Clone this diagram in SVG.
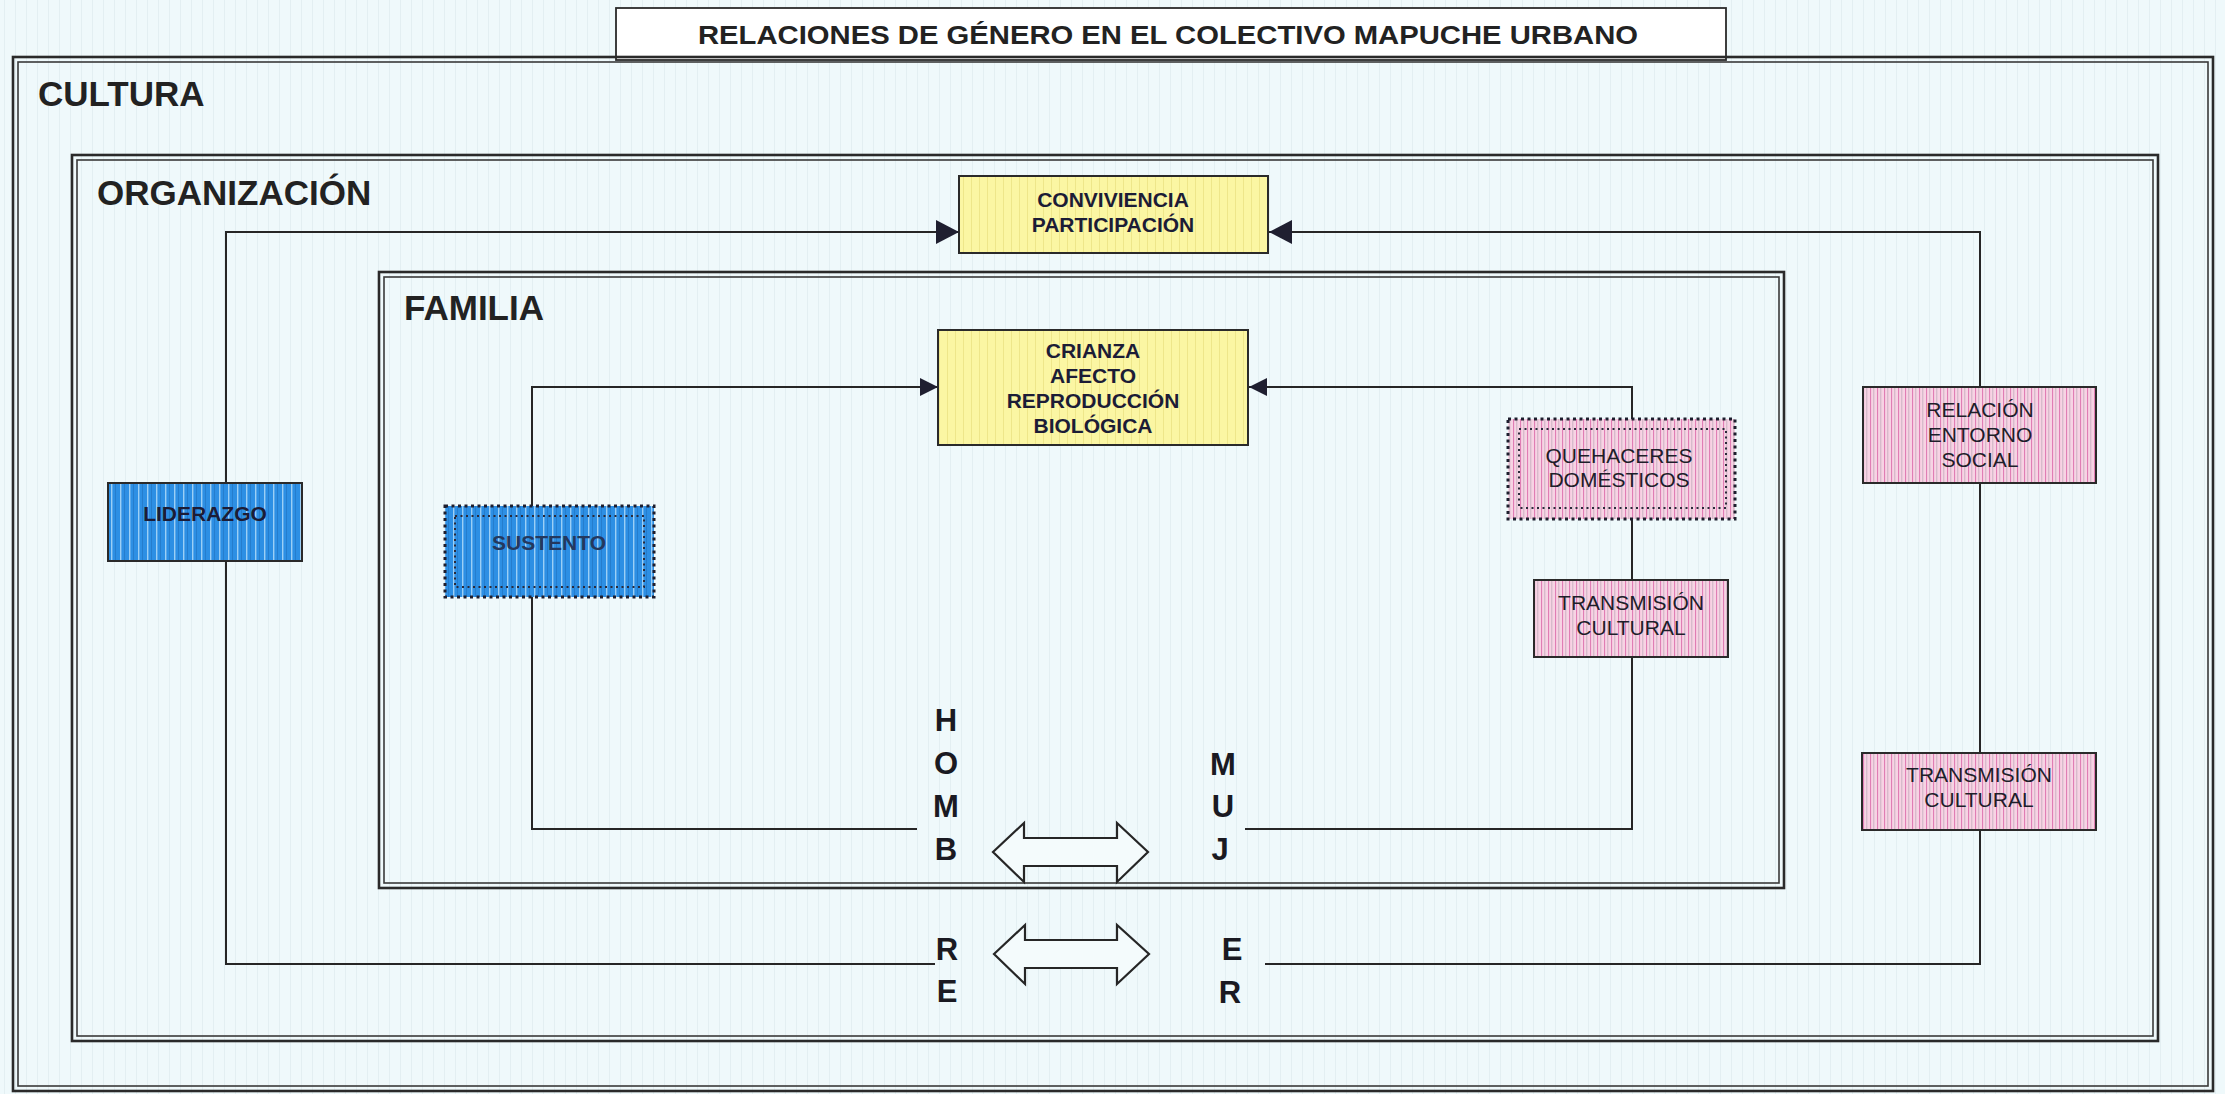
<svg xmlns="http://www.w3.org/2000/svg" width="2225" height="1094" viewBox="0 0 2225 1094">
<style>
  .frame-o { fill: none; stroke: #2a2a2a; stroke-width: 2.6; }
  .frame-i { fill: none; stroke: #3a3a3a; stroke-width: 1.6; }
  .lbl { font-family: "Liberation Sans", Arial, sans-serif; font-weight: bold; font-size: 35px; fill: #222; }
  .bt { font-family: "Liberation Sans", Arial, sans-serif; font-weight: bold; font-size: 21px; fill: #1c1c36; text-anchor: middle; }
  .pt { font-family: "Liberation Sans", Arial, sans-serif; font-weight: normal; font-size: 21px; fill: #1e1e2a; text-anchor: middle; }
  .let { font-family: "Liberation Sans", Arial, sans-serif; font-weight: bold; font-size: 31px; fill: #1a1a22; text-anchor: middle; }
  .conn { fill: none; stroke: #262626; stroke-width: 2; }
  .blk { fill: #f4fbfc; stroke: #262626; stroke-width: 2.2; stroke-linejoin: miter; }
  .box { stroke: #2a2a2a; stroke-width: 2; }
  .dot-o { fill: none; stroke: #1e1e2e; stroke-width: 3; stroke-dasharray: 3 3.5; }
  .dot-i { fill: none; stroke: #2a2a3a; stroke-width: 2; stroke-dasharray: 2 3.5; }
</style>
<defs>
  <pattern id="bg" width="11" height="20" patternUnits="userSpaceOnUse">
    <rect width="11" height="20" fill="#eff9fb"/>
    <rect x="4" width="1" height="20" fill="#e3eff2"/>
  </pattern>
  <pattern id="yel" width="8" height="20" patternUnits="userSpaceOnUse">
    <rect width="8" height="20" fill="#fbf6a3"/>
    <rect x="3" width="1" height="20" fill="#eee68a"/>
  </pattern>
  <pattern id="blu" width="9" height="20" patternUnits="userSpaceOnUse">
    <rect width="9" height="20" fill="#2d8fe4"/>
    <rect x="3" width="1.4" height="20" fill="#9ccff5"/>
    <rect x="7" width="0.8" height="20" fill="#2378c8"/>
  </pattern>
  <pattern id="pnk" width="7" height="20" patternUnits="userSpaceOnUse">
    <rect width="7" height="20" fill="#f7d3e4"/>
    <rect x="1" width="1.1" height="20" fill="#e07db4"/>
    <rect x="4.5" width="0.7" height="20" fill="#b7a3b3"/>
  </pattern>
  <marker id="arBig" markerUnits="userSpaceOnUse" markerWidth="24" markerHeight="26" refX="23" refY="12" orient="auto">
    <path d="M0,0 L23,12 L0,24 Z" fill="#1f1f30"/>
  </marker>
  <marker id="arSm" markerUnits="userSpaceOnUse" markerWidth="20" markerHeight="20" refX="18" refY="9" orient="auto">
    <path d="M0,0 L18,9 L0,18 Z" fill="#1f1f30"/>
  </marker>
</defs>

<rect x="0" y="0" width="2225" height="1094" fill="url(#bg)"/>

<g id="title">
  <rect x="616" y="8" width="1110" height="52" fill="#ffffff" stroke="#2a2a2a" stroke-width="1.8"/>
  <text x="1168" y="44" font-family="Liberation Sans, Arial, sans-serif" font-weight="bold" font-size="26" fill="#222" text-anchor="middle" textLength="940" lengthAdjust="spacingAndGlyphs">RELACIONES DE GÉNERO EN EL COLECTIVO MAPUCHE URBANO</text>
</g>

<g id="cultura">
  <rect class="frame-o" x="13" y="57" width="2200" height="1034"/>
  <rect class="frame-i" x="18" y="62" width="2190" height="1024"/>
  <text class="lbl" x="38" y="106">CULTURA</text>
</g>

<g id="organizacion">
  <rect class="frame-o" x="72" y="155" width="2086" height="886"/>
  <rect class="frame-i" x="77" y="160" width="2076" height="876"/>
  <text class="lbl" x="97" y="205">ORGANIZACIÓN</text>
</g>

<g id="familia">
  <rect class="frame-o" x="379" y="272" width="1405" height="616"/>
  <rect class="frame-i" x="384" y="277" width="1395" height="606"/>
  <text class="lbl" x="404" y="320">FAMILIA</text>
</g>

<g id="connectors">
  <path class="conn" d="M935,964 L226,964 L226,232 L959,232" marker-end="url(#arBig)"/>
  <path class="conn" d="M1265,964 L1980,964 L1980,232 L1269,232" marker-end="url(#arBig)"/>
  <path class="conn" d="M917,829 L532,829 L532,387 L938,387" marker-end="url(#arSm)"/>
  <path class="conn" d="M1245,829 L1632,829 L1632,387 L1249,387" marker-end="url(#arSm)"/>
</g>

<g id="relacion-hombre-mujer">
  <polygon class="blk" points="993,852 1024,823 1024,838 1117,838 1117,823 1148,852 1117,882 1117,866 1024,866 1024,882"/>
  <polygon class="blk" points="994,954 1025,925 1025,940 1117,940 1117,925 1149,954 1117,984 1117,968 1025,968 1025,984"/>
</g>

<g id="hombre">
  <text class="let" x="946" y="731">H</text>
  <text class="let" x="946" y="774">O</text>
  <text class="let" x="946" y="817">M</text>
  <text class="let" x="946" y="860">B</text>
  <text class="let" x="947" y="960">R</text>
  <text class="let" x="947" y="1002">E</text>
</g>

<g id="mujer">
  <text class="let" x="1223" y="775">M</text>
  <text class="let" x="1223" y="817">U</text>
  <text class="let" x="1220" y="860">J</text>
  <text class="let" x="1232" y="960">E</text>
  <text class="let" x="1230" y="1003">R</text>
</g>

<g id="convivencia">
  <rect class="box" x="959" y="176" width="309" height="77" fill="url(#yel)"/>
  <text class="bt" x="1113" y="207">CONVIVIENCIA</text>
  <text class="bt" x="1113" y="232">PARTICIPACIÓN</text>
</g>

<g id="crianza">
  <rect class="box" x="938" y="330" width="310" height="115" fill="url(#yel)"/>
  <text class="bt" x="1093" y="358">CRIANZA</text>
  <text class="bt" x="1093" y="383">AFECTO</text>
  <text class="bt" x="1093" y="408">REPRODUCCIÓN</text>
  <text class="bt" x="1093" y="433">BIOLÓGICA</text>
</g>

<g id="liderazgo">
  <rect class="box" x="108" y="483" width="194" height="78" fill="url(#blu)"/>
  <text class="bt" x="205" y="521" fill="#1c2240">LIDERAZGO</text>
</g>

<g id="sustento">
  <rect x="445" y="506" width="209" height="91" fill="url(#blu)"/>
  <rect class="dot-o" x="445" y="506" width="209" height="91"/>
  <rect class="dot-i" x="455" y="516" width="189" height="71"/>
  <text class="bt" x="549" y="550" style="fill:#24385e">SUSTENTO</text>
</g>

<g id="quehaceres">
  <rect x="1508" y="419" width="227" height="100" fill="url(#pnk)"/>
  <rect class="dot-o" x="1508" y="419" width="227" height="100"/>
  <rect class="dot-i" x="1519" y="429" width="207" height="79"/>
  <text class="pt" x="1619" y="463">QUEHACERES</text>
  <text class="pt" x="1619" y="487">DOMÉSTICOS</text>
</g>

<g id="transmision-familia">
  <rect class="box" x="1534" y="580" width="194" height="77" fill="url(#pnk)"/>
  <text class="pt" x="1631" y="610">TRANSMISIÓN</text>
  <text class="pt" x="1631" y="635">CULTURAL</text>
</g>

<g id="relacion-entorno">
  <rect class="box" x="1863" y="387" width="233" height="96" fill="url(#pnk)"/>
  <text class="pt" x="1980" y="417">RELACIÓN</text>
  <text class="pt" x="1980" y="442">ENTORNO</text>
  <text class="pt" x="1980" y="467">SOCIAL</text>
</g>

<g id="transmision-organizacion">
  <rect class="box" x="1862" y="753" width="234" height="77" fill="url(#pnk)"/>
  <text class="pt" x="1979" y="782">TRANSMISIÓN</text>
  <text class="pt" x="1979" y="807">CULTURAL</text>
</g>
</svg>
